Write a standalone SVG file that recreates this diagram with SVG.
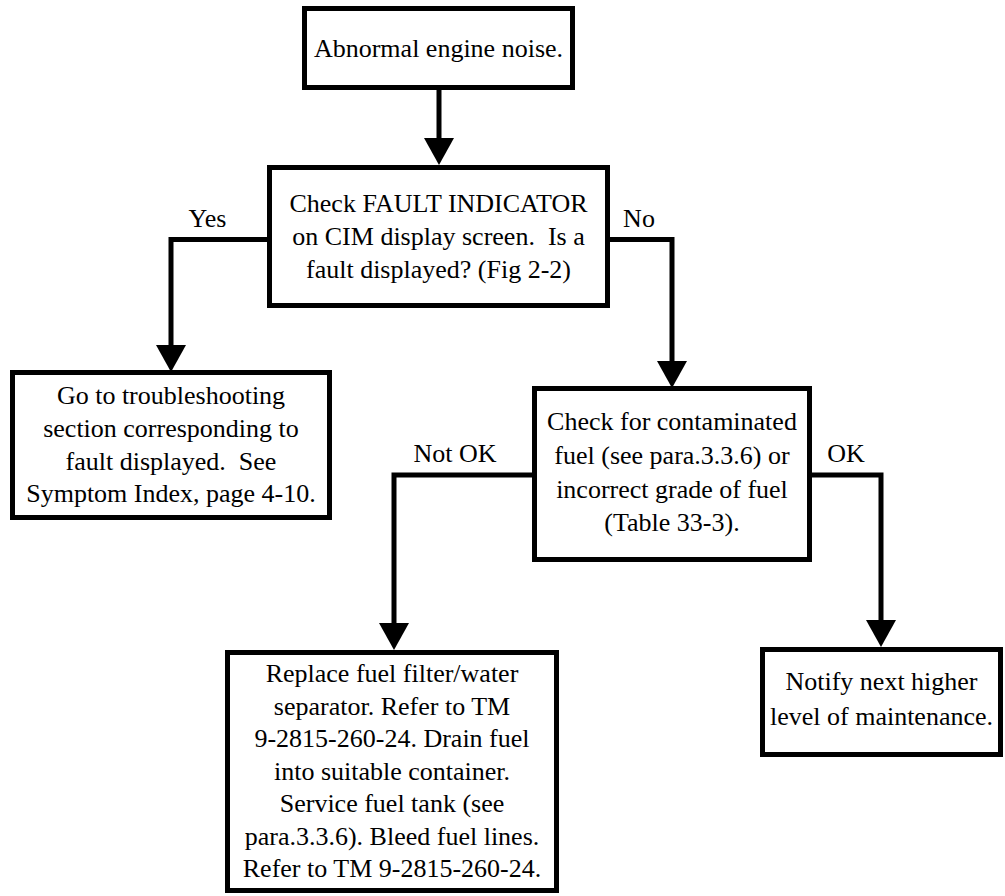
<svg xmlns="http://www.w3.org/2000/svg" width="1005" height="896" viewBox="0 0 1005 896">
<style>
.box{fill:#fff;stroke:#000;stroke-width:5}
.t{font-family:"Liberation Serif","Times New Roman",serif;font-size:26px;fill:#000;text-anchor:middle;white-space:pre}
.c{fill:none;stroke:#000;stroke-width:5}
</style>
<defs>
<marker id="ah" markerUnits="userSpaceOnUse" markerWidth="30" markerHeight="32" viewBox="0 -16 28 32" refX="0" refY="0" orient="auto">
<path d="M0,-15 L27,0 L0,15 Z" fill="#000"/>
</marker>
</defs>
<rect width="1005" height="896" fill="#fff"/>
<g id="connectors">
<path class="c" d="M439,90 V138" marker-end="url(#ah)"/>
<path class="c" d="M269.5,239.5 H171 V345" marker-end="url(#ah)"/>
<path class="c" d="M607.5,239.5 H672 V361" marker-end="url(#ah)"/>
<path class="c" d="M534.5,475 H394 V623" marker-end="url(#ah)"/>
<path class="c" d="M809.5,475 H881 V620" marker-end="url(#ah)"/>
<text class="t" x="207.5" y="227">Yes</text>
<text class="t" x="639" y="227">No</text>
<text class="t" x="455" y="462">Not OK</text>
<text class="t" x="846" y="462">OK</text>
</g>
<g id="n1">
<rect class="box" x="304.5" y="8.5" width="268" height="79"/>
<text class="t" x="438.5" y="57">Abnormal engine noise.</text>
</g>
<g id="n2">
<rect class="box" x="269.5" y="167.5" width="338" height="138"/>
<text class="t" x="438.5" y="212">Check FAULT INDICATOR</text>
<text class="t" x="438.5" y="245">on CIM display screen.  Is a</text>
<text class="t" x="438.5" y="278">fault displayed? (Fig 2-2)</text>
</g>
<g id="n3">
<rect class="box" x="12.5" y="372.5" width="317" height="145"/>
<text class="t" x="171" y="404">Go to troubleshooting</text>
<text class="t" x="171" y="437">section corresponding to</text>
<text class="t" x="171" y="470">fault displayed.  See</text>
<text class="t" x="171" y="502">Symptom Index, page 4-10.</text>
</g>
<g id="n4">
<rect class="box" x="534.5" y="388.5" width="275" height="171"/>
<text class="t" x="672" y="430">Check for contaminated</text>
<text class="t" x="672" y="464">fuel (see para.3.3.6) or</text>
<text class="t" x="672" y="498">incorrect grade of fuel</text>
<text class="t" x="672" y="531">(Table 33-3).</text>
</g>
<g id="n5">
<rect class="box" x="762.5" y="649.5" width="238" height="105"/>
<text class="t" x="881.5" y="690">Notify next higher</text>
<text class="t" x="881.5" y="725">level of maintenance.</text>
</g>
<g id="n6">
<rect class="box" x="227.5" y="652.5" width="329" height="238"/>
<text class="t" x="392" y="682">Replace fuel filter/water</text>
<text class="t" x="392" y="714.5">separator. Refer to TM</text>
<text class="t" x="392" y="747">9-2815-260-24. Drain fuel</text>
<text class="t" x="392" y="779.5">into suitable container.</text>
<text class="t" x="392" y="812">Service fuel tank (see</text>
<text class="t" x="392" y="844.5">para.3.3.6). Bleed fuel lines.</text>
<text class="t" x="392" y="877">Refer to TM 9-2815-260-24.</text>
</g>
</svg>
